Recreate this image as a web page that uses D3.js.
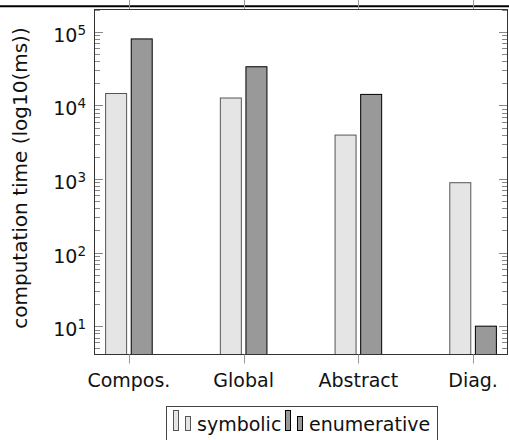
<!DOCTYPE html>
<html>
<head>
<meta charset="utf-8">
<script src="https://cdn.jsdelivr.net/npm/d3@7"></script>
<style>
  html, body { margin: 0; padding: 0; background: #fff; }
  svg { display: block; font-family: "DejaVu Sans", sans-serif; }
</style>
</head>
<body>
<svg id="chart" width="509" height="440"></svg>
<script>
// Computation time per verification method (ms, log scale)
const categories = ["Compos.", "Global", "Abstract", "Diag."];
const symbolic = [14500, 12600, 3950, 890];
const enumerative = [80000, 33500, 14100, 10];
const seriesNames = ["symbolic", "enumerative"];
const majorTicks = [1e1, 1e2, 1e3, 1e4, 1e5];
const yMin = Math.pow(10, 0.615);
const yMax = Math.pow(10, 5.303);
const yLabel = "computation time (log10(ms))";

const svg = d3.select("#chart");
const W = 509, H = 440;
const frame = { left: 94.5, right: 507.5, top: 9.5, bottom: 354.5 };

const x = d3.scalePoint().domain(categories)
  .range([frame.left, frame.right]).padding(0.3);
const y = d3.scaleLog().domain([yMin, yMax])
  .range([frame.bottom, frame.top]);

// rule and tick marks of the panel above
svg.append("line").attr("x1", 0).attr("x2", W).attr("y1", 6.3).attr("y2", 6.3)
  .attr("stroke", "#000").attr("stroke-width", 2);
svg.append("g").selectAll("line").data(categories).join("line")
  .attr("x1", d => Math.round(x(d)) + 0.5).attr("x2", d => Math.round(x(d)) + 0.5)
  .attr("y1", 0).attr("y2", 9)
  .attr("stroke", "#999").attr("stroke-width", 1);

// minor + major ticks, both sides, inward
const minor = [];
for (let e = 0; e <= 5; e++) {
  for (let m = 2; m <= 9; m++) {
    const v = m * Math.pow(10, e);
    if (v >= yMin && v <= yMax) minor.push(v);
  }
}
const tickG = svg.append("g").attr("stroke", "#888").attr("stroke-width", 1);
function drawTicks(vals, len) {
  tickG.append("g").selectAll("line").data(vals).join("line")
    .attr("x1", frame.left).attr("x2", frame.left + len)
    .attr("y1", d => Math.round(y(d)) + 0.5).attr("y2", d => Math.round(y(d)) + 0.5);
  tickG.append("g").selectAll("line").data(vals).join("line")
    .attr("x1", frame.right).attr("x2", frame.right - len)
    .attr("y1", d => Math.round(y(d)) + 0.5).attr("y2", d => Math.round(y(d)) + 0.5);
}
drawTicks(minor, 5.5);
drawTicks(majorTicks, 8.5);

// bars
const barW = 21, off = 12.8;
const rows = categories.map((c, i) => ({ c, s: symbolic[i], e: enumerative[i] }));
svg.append("g").selectAll("rect").data(rows).join("rect")
  .attr("x", d => x(d.c) - off - barW / 2)
  .attr("width", barW)
  .attr("y", d => y(d.s))
  .attr("height", d => y(yMin) - y(d.s))
  .attr("fill", "#e5e5e5").attr("stroke", "#555").attr("stroke-width", 1);
svg.append("g").selectAll("rect").data(rows).join("rect")
  .attr("x", d => x(d.c) + off - barW / 2)
  .attr("width", barW)
  .attr("y", d => y(d.e))
  .attr("height", d => y(yMin) - y(d.e))
  .attr("fill", "#999").attr("stroke", "#000").attr("stroke-width", 1);

// frame
svg.append("rect")
  .attr("x", frame.left).attr("y", frame.top)
  .attr("width", frame.right - frame.left).attr("height", frame.bottom - frame.top)
  .attr("fill", "none").attr("stroke", "#333").attr("stroke-width", 1);

// x ticks below frame and labels
svg.append("g").selectAll("line").data(categories).join("line")
  .attr("x1", d => Math.round(x(d)) + 0.5).attr("x2", d => Math.round(x(d)) + 0.5)
  .attr("y1", frame.bottom).attr("y2", frame.bottom + 9)
  .attr("stroke", "#999").attr("stroke-width", 1);
svg.append("g").selectAll("text").data(categories).join("text")
  .attr("x", d => x(d)).attr("y", 387)
  .attr("text-anchor", "middle").attr("font-size", 19).attr("fill", "#111")
  .text(d => d);

// y tick labels 10^n
const yl = svg.append("g").selectAll("text").data(majorTicks).join("text")
  .attr("x", 86).attr("y", d => y(d) + 10)
  .attr("text-anchor", "end").attr("font-size", 19).attr("fill", "#111");
yl.append("tspan").text("10");
yl.append("tspan").attr("dy", -7).attr("font-size", 13.5)
  .text(d => String(Math.round(Math.log10(d))));

// y axis title
svg.append("text")
  .attr("transform", `translate(27,${(frame.top + frame.bottom) / 2 - 4}) rotate(-90)`)
  .attr("text-anchor", "middle").attr("font-size", 20).attr("fill", "#111")
  .text(yLabel);

// legend
const lg = svg.append("g");
lg.append("rect").attr("x", 166.5).attr("y", 406.5).attr("width", 271).attr("height", 40)
  .attr("fill", "#fff").attr("stroke", "#444").attr("stroke-width", 1);
const legendItems = [
  { name: seriesNames[0], fill: "#e5e5e5", stroke: "#555", x0: 173 },
  { name: seriesNames[1], fill: "#999", stroke: "#000", x0: 285 }
];
const base = 430.5;
legendItems.forEach(it => {
  lg.append("rect").attr("x", it.x0 + 0.5).attr("y", base - 20).attr("width", 5).attr("height", 20)
    .attr("fill", it.fill).attr("stroke", it.stroke);
  lg.append("rect").attr("x", it.x0 + 12.5).attr("y", base - 14).attr("width", 5).attr("height", 14)
    .attr("fill", it.fill).attr("stroke", it.stroke);
  lg.append("text").attr("x", it.x0 + 24).attr("y", base)
    .attr("font-size", 19).attr("fill", "#111").text(it.name);
});
</script>
</body>
</html>
